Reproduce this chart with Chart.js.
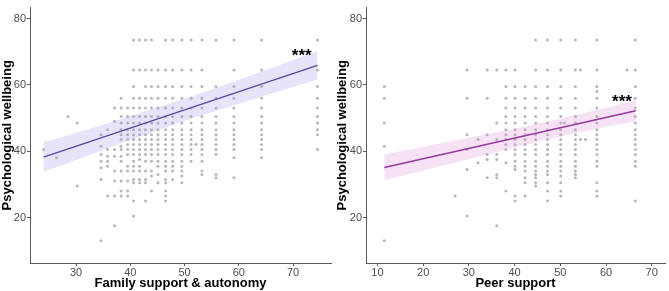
<!DOCTYPE html>
<html>
<head>
<meta charset="utf-8">
<script src="https://cdn.jsdelivr.net/npm/chart.js@4"></script>
<style>
  html, body { margin: 0; padding: 0; background: #fff; }
  #wrap { position: relative; width: 669px; height: 291px; }
  canvas { position: absolute; top: 0; }
</style>
</head>
<body>
<div id="wrap">
  <canvas id="family" width="335" height="291" style="left:0"></canvas>
  <canvas id="peer" width="334" height="291" style="left:335px"></canvas>
</div>
<script>
// ---- shared ticks ----
const wellbeingTicks = [20, 40, 60, 80];
const familyTicks = [30, 40, 50, 60, 70];
const peerTicks = [10, 20, 30, 40, 50, 60, 70];

// ---- Family support & autonomy: scatter columns (x) and wellbeing values in each ----
const familyX = [24, 26.4, 28.5, 30.2, 34.6, 35.8, 37.1, 38.3, 39.5, 40.6, 41.7, 42.8, 43.9, 45.1,
  46.5, 47.8, 49.5, 51.2, 52.1, 53.2, 55.8, 59.1, 64.2, 74.5];
const familyY = [
  [40.5],
  [38],
  [50.5],
  [48.5, 29.5],
  [45, 41.5, 39, 37, 35, 31.5, 13],
  [46.5, 40.5, 38.5, 37, 35.5, 26.5],
  [53, 49, 40.5, 38.5, 34, 31, 26.5, 17.5],
  [56, 53, 50.5, 48.5, 46.5, 45, 43.5, 41.5, 40.5, 38.5, 37, 34, 31, 28, 26.5],
  [53, 50.5, 48.5, 46.5, 45, 43.5, 42, 40.5, 39, 35.5, 34, 31, 28, 26.5],
  [73.5, 64.5, 59.5, 56, 53, 50.5, 48.5, 46.5, 45, 43.5, 42, 40.5, 39, 37, 35.5, 34, 31.5, 30.5, 25, 20.5],
  [73.5, 64.5, 56, 53, 50.5, 48.5, 46.5, 45, 43.5, 42, 40.5, 39, 37.5, 35.5, 34, 31.5, 30.5],
  [73.5, 64.5, 59.5, 56, 53, 50.5, 48.5, 46.5, 45, 43.5, 42, 40.5, 39, 37, 34, 31.5, 30.5, 25],
  [73.5, 64.5, 59.5, 56, 53, 50.5, 48.5, 46.5, 45, 43.5, 42, 40.5, 39, 37, 34, 32.5, 28],
  [64.5, 59.5, 56, 53, 50.5, 48.5, 46.5, 45, 43.5, 42, 40.5, 39, 37, 35.5, 33, 30.5],
  [73.5, 64.5, 59.5, 56, 53, 50.5, 48.5, 46.5, 45, 43.5, 42, 40.5, 39, 37, 35.5, 34, 31.5, 30.5, 28, 26.5, 25],
  [73.5, 64.5, 59.5, 56, 53, 50.5, 48.5, 46.5, 45, 43.5, 42, 40.5, 39, 37, 35.5, 34, 31.5],
  [73.5, 64.5, 59.5, 56, 53, 50.5, 48.5, 46.5, 45, 43.5, 42, 40.5, 39, 37, 35.5, 34, 32.5, 30.5],
  [73.5, 64.5, 59.5, 56, 53, 50.5, 48.5, 46.5, 45, 43.5, 42, 40.5, 39, 37],
  [42],
  [73.5, 64.5, 59.5, 56, 53, 50.5, 48.5, 46.5, 45, 43.5, 42, 40.5, 39, 37, 34, 33],
  [73.5, 59.5, 56, 53, 50.5, 48.5, 46.5, 45, 43.5, 42, 40.5, 39, 33, 32],
  [73.5, 64.5, 59.5, 56, 53, 50.5, 48.5, 46.5, 45, 43.5, 42, 40.5, 38, 32],
  [73.5, 64.5, 59.5, 56, 53, 50.5, 48.5, 46.5, 45, 43.5, 42, 40.5, 38],
  [73.5, 64.5, 59.5, 56, 53, 50.5, 48.5, 46.5, 45, 40.5]
];
// fitted line and 95% band
const familyFitX = [24, 74.5];
const familyFitY = [38.2, 65.9];
const familyBandX = [24, 35, 50, 62, 74.5];
const familyBandHi = [42.7, 48.0, 55.9, 62.7, 70.2];
const familyBandLo = [33.7, 40.4, 49.1, 55.3, 61.6];
const familyStar = [71.6, 68.4];

// ---- Peer support ----
const peerX = [11.5, 27, 29.6, 32, 34, 36.1, 38.1, 40.1, 42.3, 44.6, 47.2, 50.1, 50.9, 53.3,
  54.4, 55.5, 58, 64.6, 66.4];
const peerY = [
  [59.5, 56, 48.5, 41.5, 13],
  [26.5],
  [64.5, 56, 45, 40.5, 34.5, 20.5],
  [43.5, 36.5],
  [64.5, 56, 45, 39, 37.5, 32],
  [64.5, 48.5, 43.5, 39, 37.5, 33, 32, 17.5],
  [64.5, 59.5, 56, 53, 50.5, 48.5, 46.5, 45, 43.5, 42, 40.5, 36.5, 28],
  [64.5, 59.5, 56, 53, 50.5, 48.5, 46.5, 45, 43.5, 42, 40.5, 39, 37, 35.5, 34.5, 26.5, 25],
  [59.5, 56, 53, 50.5, 48.5, 46.5, 45, 43.5, 42, 40.5, 39, 37, 35.5, 34, 32, 30.5, 26.5],
  [73.5, 64.5, 59.5, 56, 53, 50.5, 48.5, 46.5, 45, 43.5, 42, 40.5, 39, 37, 35.5, 34, 33, 32, 30.5, 29.5],
  [73.5, 64.5, 59.5, 56, 53, 50.5, 48.5, 46.5, 45, 43.5, 42, 40.5, 39, 37, 35.5, 34, 33, 30.5, 28, 25],
  [73.5, 64.5, 59.5, 56, 53, 50.5, 48.5, 46.5, 45, 43.5, 42, 40.5, 39, 37, 35.5, 34, 32.5, 30.5, 28, 26.5],
  [48.5],
  [73.5, 64.5, 59.5, 56, 53, 50.5, 48.5, 46.5, 45, 43.5, 42, 40.5, 39, 37, 35.5, 34, 33, 32],
  [64.5, 43.5],
  [43.5],
  [73.5, 64.5, 59.5, 58, 56, 53, 50.5, 48.5, 46.5, 45, 43.5, 42, 40.5, 39, 37, 35.5, 30.5, 28, 26.5],
  [64.5],
  [73.5, 64.5, 59.5, 56, 53, 50.5, 48.5, 46.5, 45, 43.5, 42, 40.5, 39, 37, 35.5, 25]
];
const peerFitX = [11.5, 66.5];
const peerFitY = [35.1, 52.2];
const peerBandX = [11.5, 25, 36, 48, 58, 66.5];
const peerBandHi = [39.0, 42.7, 45.7, 49.2, 52.4, 55.4];
const peerBandLo = [31.2, 35.9, 39.7, 43.8, 46.8, 49.0];
const peerStar = [63.5, 54.4];

const FONT = "'Liberation Sans', Arial, sans-serif";
const AXIS = '#5a5a5a';

const pts = (xs, ys) => xs.map((x, i) => ({ x, y: ys[i] }));

const starPlugin = {
  id: 'stars',
  afterDatasetsDraw(chart, args, opts) {
    const { ctx, scales } = chart;
    const px = scales.x.getPixelForValue(opts.at[0]);
    const py = scales.y.getPixelForValue(opts.at[1]);
    ctx.save();
    ctx.font = 'bold 17px ' + FONT;
    ctx.fillStyle = '#000';
    ctx.textAlign = 'center';
    ctx.textBaseline = 'alphabetic';
    ctx.fillText('***', px, py + 4);
    ctx.restore();
  }
};

function makePanel(id, cfg) {
  const scatter = cfg.colX.flatMap((x, i) => cfg.colY[i].map(y => ({ x, y })));
  return new Chart(document.getElementById(id), {
    type: 'scatter',
    data: {
      datasets: [
        { type: 'line', data: pts(cfg.fitX, cfg.fitY), borderColor: cfg.lineColor, borderWidth: 1.4,
          pointRadius: 0, fill: false },
        { type: 'line', data: pts(cfg.bandX, cfg.bandHi), borderWidth: 0, pointRadius: 0,
          tension: 0.3, fill: '+1', backgroundColor: cfg.bandColor },
        { type: 'line', data: pts(cfg.bandX, cfg.bandLo), borderWidth: 0, pointRadius: 0,
          tension: 0.3, fill: false },
        { data: scatter, pointRadius: 1.5, pointBorderWidth: 0,
          backgroundColor: 'rgba(95,95,95,0.45)' }
      ]
    },
    options: {
      responsive: false,
      animation: false,
      events: [],
      layout: { padding: { top: 2, right: cfg.padRight, bottom: 0, left: 0 } },
      plugins: { legend: { display: false }, tooltip: { enabled: false }, stars: { at: cfg.star } },
      scales: {
        x: {
          type: 'linear', min: cfg.xMin, max: cfg.xMax,
          afterBuildTicks: s => { s.ticks = cfg.xTicks.map(v => ({ value: v })); },
          afterFit: s => { s.height = 28; },
          border: { color: AXIS, width: 1 },
          grid: { drawOnChartArea: false, tickLength: 3, color: AXIS },
          ticks: { color: '#4d4d4d', font: { family: FONT, size: 11 }, padding: 0, maxRotation: 0 },
          title: { display: true, text: cfg.xTitle, color: '#000',
            font: { family: FONT, size: 13, weight: 'bold' }, padding: 0 }
        },
        y: {
          min: 6.3, max: 83.3,
          afterBuildTicks: s => { s.ticks = wellbeingTicks.map(v => ({ value: v })); },
          afterFit: s => { s.width = cfg.yWidth; },
          border: { color: AXIS, width: 1 },
          grid: { drawOnChartArea: false, tickLength: 3, color: AXIS },
          ticks: { color: '#4d4d4d', font: { family: FONT, size: 11 }, padding: 1 },
          title: { display: true, text: 'Psychological wellbeing', color: '#000',
            font: { family: FONT, size: 13, weight: 'bold' }, padding: 0 }
        }
      }
    },
    plugins: [starPlugin]
  });
}

makePanel('family', {
  colX: familyX, colY: familyY,
  fitX: familyFitX, fitY: familyFitY,
  bandX: familyBandX, bandHi: familyBandHi, bandLo: familyBandLo,
  lineColor: '#5a48a3', bandColor: 'rgba(163,147,227,0.26)',
  star: familyStar, xTicks: familyTicks, xMin: 21.5, xMax: 77,
  xTitle: 'Family support & autonomy', yWidth: 30, padRight: 4
});

makePanel('peer', {
  colX: peerX, colY: peerY,
  fitX: peerFitX, fitY: peerFitY,
  bandX: peerBandX, bandHi: peerBandHi, bandLo: peerBandLo,
  lineColor: '#963b9d', bandColor: 'rgba(223,135,211,0.25)',
  star: peerStar, xTicks: peerTicks, xMin: 7.5, xMax: 72.9,
  xTitle: 'Peer support', yWidth: 31, padRight: 2
});
</script>
</body>
</html>
